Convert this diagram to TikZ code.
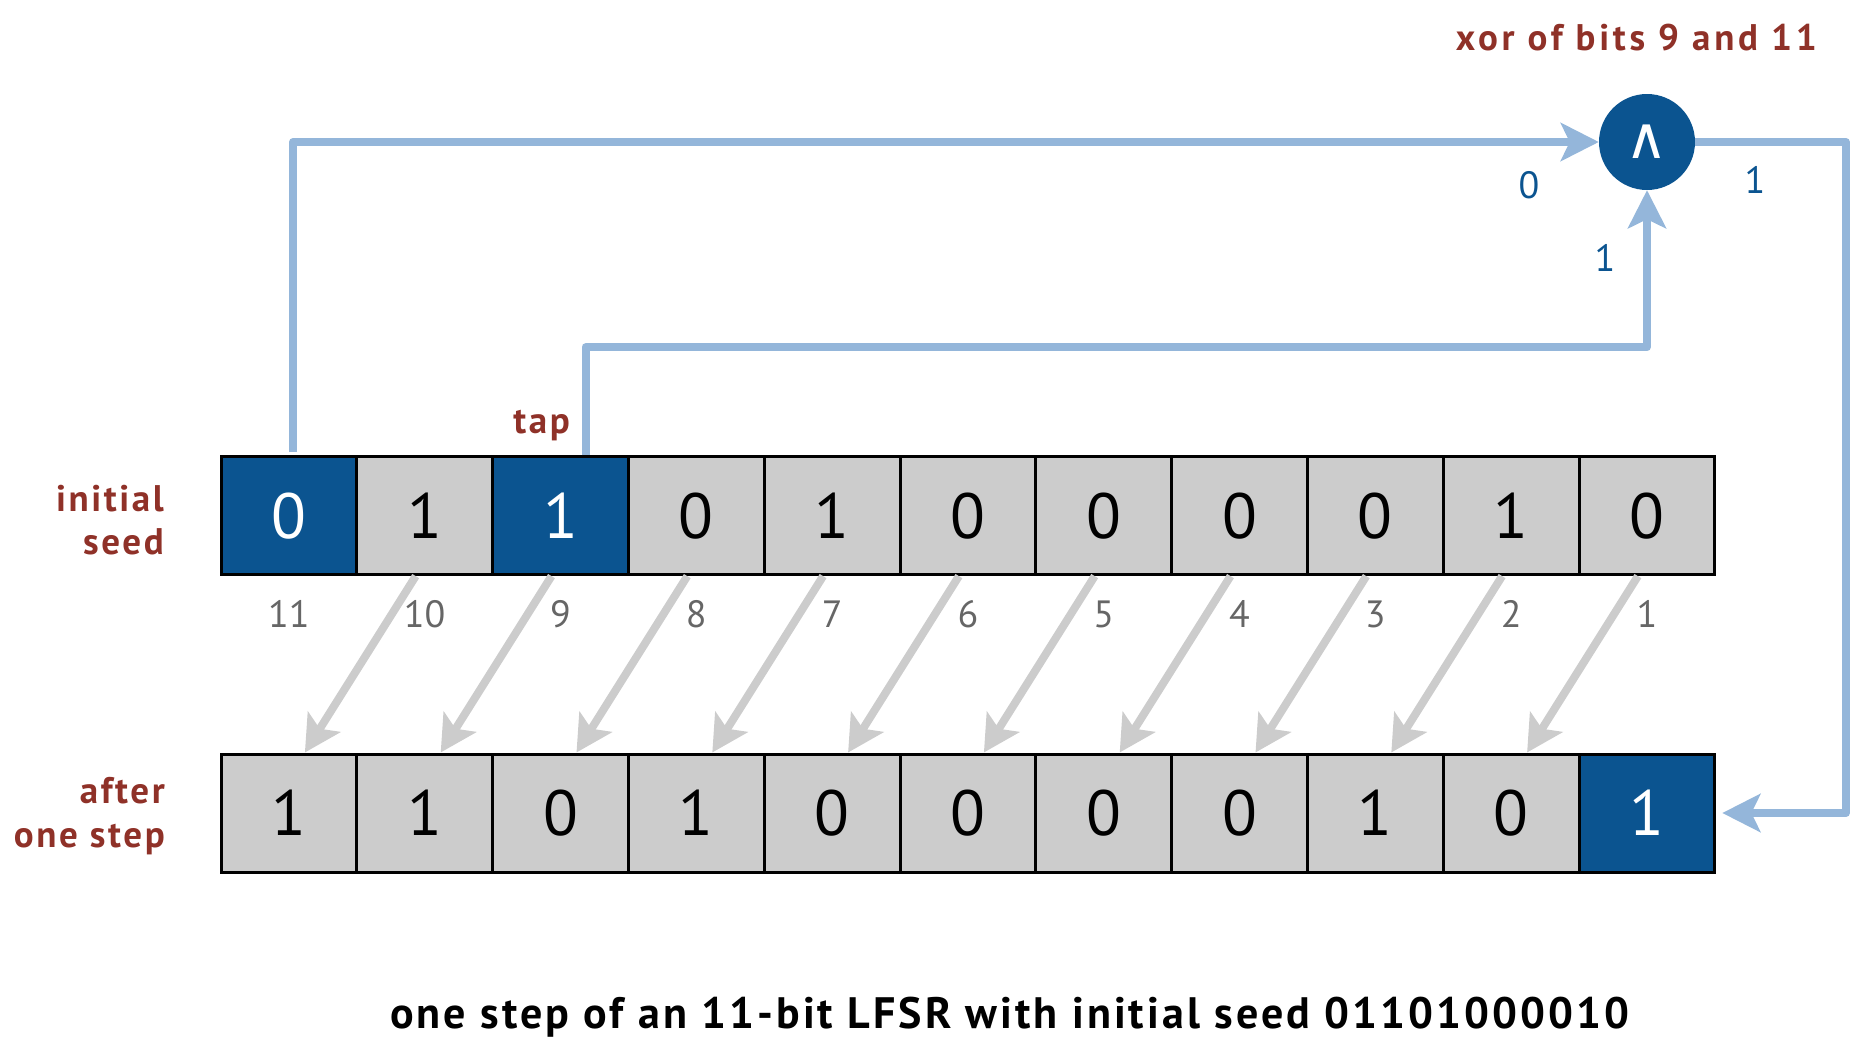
\documentclass[tikz,border=0pt]{standalone}
\usepackage{fontspec}
\setmainfont{PT Sans}
\newfontfamily\lblfnt{PT Sans}[LetterSpace=7]
\newfontfamily\xorfnt{PT Sans}[LetterSpace=10]
\newfontfamily\capfnt{PT Sans}[LetterSpace=7]
\newfontfamily\symfnt{DejaVu Sans}
\usetikzlibrary{arrows.meta,calc}
\definecolor{cellgray}{HTML}{CCCCCC}
\definecolor{dblue}{HTML}{0B5490}
\definecolor{lblue}{HTML}{94B6DA}
\definecolor{rbrown}{HTML}{8F3128}
\definecolor{idxgray}{HTML}{666666}
\begin{document}
\begin{tikzpicture}[x=1pt,y=-1pt,
  cell/.style={draw=black, line width=3pt, fill=cellgray, minimum width=135.8pt,
    minimum height=118pt, inner sep=0pt, font=\fontsize{64}{64}\selectfont, text=black},
  hcell/.style={cell, fill=dblue, text=white},
  idx/.style={font=\fontsize{38}{38}\selectfont, text=idxgray, inner sep=0pt},
  lbl/.style={font=\lblfnt\bfseries\fontsize{37}{43.5}\selectfont, text=rbrown, align=right, inner sep=0pt},
  bitlbl/.style={font=\fontsize{38}{38}\selectfont, text=dblue, inner sep=0pt},
  shiftarrow/.style={draw=cellgray, line width=8pt, -{Stealth[length=36pt,width=38pt,inset=8pt]}},
  feed/.style={draw=lblue, line width=8pt, line join=round, -{Stealth[length=38pt,width=38pt,inset=9pt]}},
]
\useasboundingbox (0,0) rectangle (1874,1060);

% registers
\foreach \v/\s [count=\i] in {0/hcell,1/cell,1/hcell,0/cell,1/cell,0/cell,0/cell,0/cell,0/cell,1/cell,0/cell}
  \node[\s] (t\i) at ({288.9+135.8*(\i-1)},515.6) {\v};
\foreach \v/\s [count=\i] in {1/cell,1/cell,0/cell,1/cell,0/cell,0/cell,0/cell,0/cell,1/cell,0/cell,1/hcell}
  \node[\s] (b\i) at ({288.9+135.8*(\i-1)},813) {\v};

% bit indices
\foreach \i [evaluate=\i as \n using int(12-\i)] in {1,...,11}
  \node[idx] (n\i) at ($(t\i.south)+(0,38)$) {\n};

% shift arrows
\foreach \i [evaluate=\i as \j using int(\i-1)] in {2,...,11}
  \draw[shiftarrow] ($(t\i.south)+(-9,0)$) -- ($(b\j.north)+(16,0)$);

% xor gate
\node[circle, fill=dblue, minimum size=96pt, inner sep=0pt, text=white,
  font=\symfnt\fontsize{58}{58}\selectfont] (xor) at (1647,142) {∧};

% feedback wires
\draw[feed] ($(t1.north)+(4,-3)$) |- (xor.west);
\draw[feed] ($(t3.north)+(25,0)$) |- ($(xor.south)+(0,157)$) -- (xor.south);
\draw[feed, shorten >=6pt] (xor.east) -| ($(b11.east)+(129.5,0)$) -- (b11.east);

% wire values
\node[bitlbl] (v0) at (1529,185) {0};
\node[bitlbl] (v1) at (1605,258) {1};
\node[bitlbl] (v2) at (1755,180) {1};

% labels
\node[lbl, font=\xorfnt\bfseries\fontsize{37}{43.5}\selectfont, anchor=base east] (xl) at (1817,50) {xor of bits 9 and 11};
\node[lbl, anchor=base east] (tap) at (570,433) {tap};
\node[lbl, anchor=east] (init) at (164,520) {initial\\seed};
\node[lbl, anchor=east] (after) at (165,816) {after\\one step};

% caption
\node[anchor=base, inner sep=0pt, font=\capfnt\bfseries\fontsize{44}{44}\selectfont] (cap) at (1010,1028)
  {one step of an 11-bit LFSR with initial seed 01101000010};
\end{tikzpicture}
\end{document}
